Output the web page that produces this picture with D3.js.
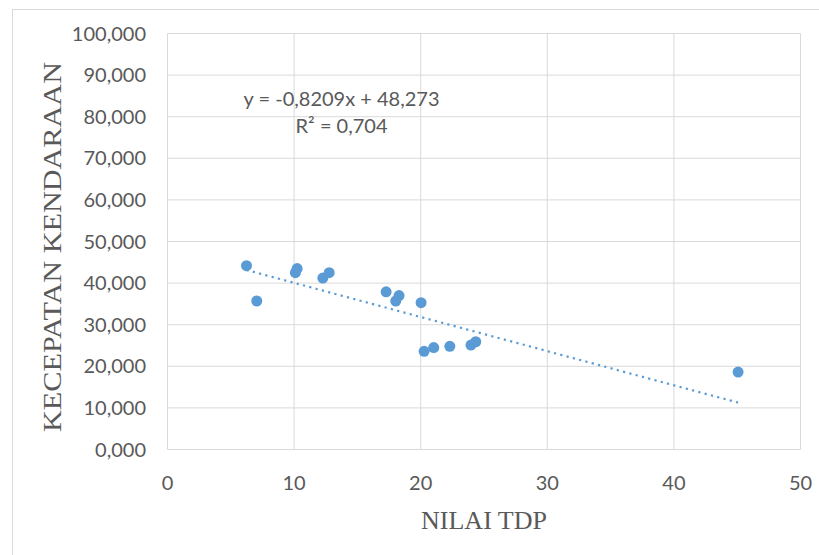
<!DOCTYPE html>
<html lang="en">
  <head>
    <meta charset="UTF-8" />
    <title>Kecepatan vs TDP</title>
    <script src="https://d3js.org/d3.v7.min.js"></script>
    <style>
      body { margin: 0; background: #fff; }
      .tick-label { font-family: Lato, sans-serif; font-size: 20px; fill: #595959; }
      .axis-title { font-family: "Liberation Serif", "Times New Roman", serif; font-size: 26px; fill: #595959; }
      .grid line { stroke: #d9d9d9; stroke-width: 1; }
    </style>
  </head>
  <body>
    <div id="chart"></div>
    <script>
      // values
      var tdp = [6.24, 7.05, 10.24, 10.1, 12.27, 12.77, 17.27, 18.29, 18.03, 20.03, 20.27, 21.03, 22.3, 23.97, 24.35, 45.07];
      var kecepatan = [44.2, 35.7, 43.5, 42.5, 41.2, 42.5, 37.9, 37.0, 35.7, 35.3, 23.6, 24.5, 24.8, 25.1, 25.9, 18.6];
      var xTicks = [0, 10, 20, 30, 40, 50];
      var yTicks = [0, 10, 20, 30, 40, 50, 60, 70, 80, 90, 100];
      var slope = -0.8209, intercept = 48.273;
      var eqText = "y = -0,8209x + 48,273";
      var r2Text = "R² = 0,704";

      var width = 819, height = 555;
      var color = "#5b9bd5";

      var svg = d3.select("#chart").append("svg")
        .attr("width", width)
        .attr("height", height);

      // chart border
      svg.append("rect")
        .attr("x", 12.5).attr("y", 9.5)
        .attr("width", 830).attr("height", 570)
        .attr("fill", "none").attr("stroke", "#d9d9d9");

      var x = d3.scaleLinear().domain([0, 50]).range([167.5, 800.5]);
      var y = d3.scaleLinear().domain([0, 100]).range([449.5, 33.5]);

      var grid = svg.append("g").attr("class", "grid");
      grid.selectAll(".v").data(xTicks).enter().append("line")
        .attr("x1", d => x(d)).attr("x2", d => x(d))
        .attr("y1", y(0)).attr("y2", y(100));
      grid.selectAll(".h").data(yTicks).enter().append("line")
        .attr("x1", x(0)).attr("x2", x(50))
        .attr("y1", d => y(d)).attr("y2", d => y(d));

      // 3 decimals, comma as decimal mark
      var fmtY = d => d3.format(".3f")(d).replace(".", ",");
      svg.selectAll(".ylab").data(yTicks).enter().append("text")
        .attr("class", "tick-label")
        .attr("x", 146)
        .attr("y", d => y(d))
        .attr("dy", "0.35em")
        .attr("text-anchor", "end")
        .text(fmtY);

      svg.selectAll(".xlab").data(xTicks).enter().append("text")
        .attr("class", "tick-label")
        .attr("x", d => x(d))
        .attr("y", 490)
        .attr("text-anchor", "middle")
        .text(d => d);

      // trend line
      var xr = d3.extent(tdp);
      svg.append("line")
        .attr("x1", x(xr[0])).attr("y1", y(slope * xr[0] + intercept))
        .attr("x2", x(xr[1])).attr("y2", y(slope * xr[1] + intercept))
        .attr("stroke", color)
        .attr("stroke-width", 2.2)
        .attr("stroke-dasharray", "2.2,4.3");

      // points
      svg.append("g").selectAll("circle")
        .data(tdp.map((d, i) => ({ x: d, y: kecepatan[i] })))
        .enter().append("circle")
        .attr("cx", d => x(d.x))
        .attr("cy", d => y(d.y))
        .attr("r", 5.5)
        .attr("fill", color);

      // equation labels
      svg.append("text").attr("class", "tick-label")
        .attr("x", x(13.75)).attr("y", 106)
        .attr("text-anchor", "middle").text(eqText);
      svg.append("text").attr("class", "tick-label")
        .attr("x", x(13.75)).attr("y", 133)
        .attr("text-anchor", "middle").text(r2Text);

      // axis titles
      svg.append("text").attr("class", "axis-title")
        .attr("x", 484).attr("y", 529)
        .attr("text-anchor", "middle").text("NILAI TDP");
      svg.append("text").attr("class", "axis-title")
        .attr("transform", "translate(61,247) rotate(-90)")
        .attr("x", -185).attr("y", 0)
        .attr("textLength", 370).attr("lengthAdjust", "spacingAndGlyphs")
        .text("KECEPATAN KENDARAAN");
    </script>
  </body>
</html>
